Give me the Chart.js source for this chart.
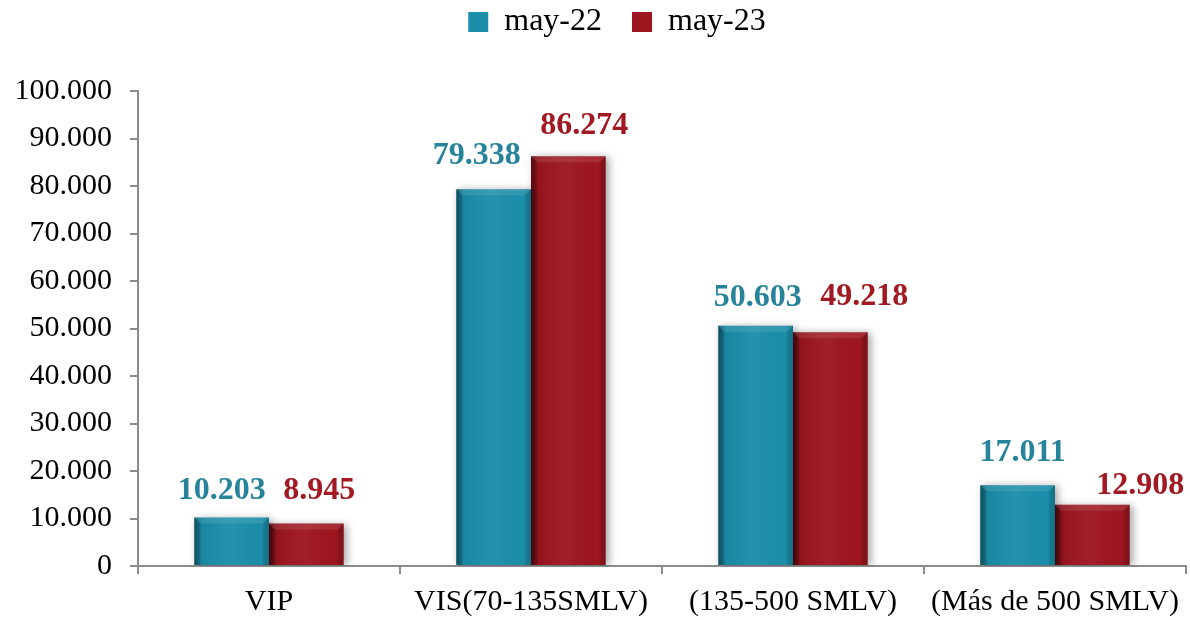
<!DOCTYPE html>
<html>
<head>
<meta charset="utf-8">
<script src="https://cdn.jsdelivr.net/npm/chart.js@4.4.1/dist/chart.umd.min.js"></script>
<style>
  html, body { margin: 0; padding: 0; background: #ffffff; }
  #wrap { width: 1190px; height: 620px; position: relative; }
</style>
</head>
<body>
<div id="wrap"><canvas id="chart"></canvas></div>
<script>
// Categories and series
const categories = ['VIP', 'VIS(70-135SMLV)', '(135-500 SMLV)', '(Más de 500 SMLV)'];
const seriesNames = ['may-22', 'may-23'];
const may22 = [10203, 79338, 50603, 17011];
const may23 = [8945, 86274, 49218, 12908];
const yMin = 0;
const yMax = 100000;
const yStep = 10000;

// Label placement tweaks (pixels): horizontal nudge and rise above bar top
const labelNudgeX = [[-10, -17, 2, 5], [13, 16, 34, 48]];
const labelRise = [[27, 33, 28, 32], [33, 30, 35, 19]];

const FONT = "'Liberation Serif', 'DejaVu Serif', serif";
const BLUE = '#1b8eaa';
const RED = '#9d1620';
const BLUE_TEXT = '#26839a';
const RED_TEXT = '#a11a23';
const AXIS = '#8c8c8c';

function fmt(v) {
  return String(Math.round(v)).replace(/\B(?=(\d{3})+(?!\d))/g, '.');
}

// Extra room below the legend, and a small shift of the legend to the right
const legendSpacer = {
  id: 'legendSpacer',
  beforeInit(chart) {
    const fit = chart.legend.fit;
    chart.legend.fit = function () {
      fit.bind(this)();
      this.height += 43;
    };
  },
  afterLayout(chart) {
    chart.legend.left += 24;
    chart.legend.right += 24;
  }
};

// Soft shadow under bars plus bevel shading drawn over each bar element
const bevelPlugin = {
  id: 'bevel',
  beforeDatasetDraw(chart) {
    const ctx = chart.ctx;
    ctx.save();
    ctx.shadowColor = 'rgba(0,0,0,0.35)';
    ctx.shadowBlur = 8;
    ctx.shadowOffsetX = 3;
    ctx.shadowOffsetY = 1;
  },
  afterDatasetDraw(chart) {
    chart.ctx.restore();
  },
  afterDatasetsDraw(chart) {
    const ctx = chart.ctx;
    chart.data.datasets.forEach((ds, di) => {
      const meta = chart.getDatasetMeta(di);
      meta.data.forEach(el => {
        const { x, y, base, width } = el.getProps(['x', 'y', 'base', 'width'], true);
        const l = x - width / 2, r = x + width / 2;
        const top = Math.min(y, base), bot = Math.max(y, base);
        const h = bot - top;
        ctx.save();
        const g = ctx.createLinearGradient(l, 0, r, 0);
        g.addColorStop(0, 'rgba(0,0,0,0.38)');
        g.addColorStop(0.1, 'rgba(0,0,0,0.05)');
        g.addColorStop(0.5, 'rgba(255,255,255,0.04)');
        g.addColorStop(0.9, 'rgba(0,0,0,0.0)');
        g.addColorStop(1, 'rgba(0,0,0,0.15)');
        ctx.fillStyle = g;
        ctx.fillRect(l, top, width, h);
        const b = Math.min(6, h / 2);
        // top bevel
        ctx.beginPath();
        ctx.moveTo(l, top); ctx.lineTo(r, top); ctx.lineTo(r - b, top + b); ctx.lineTo(l + b, top + b); ctx.closePath();
        ctx.fillStyle = 'rgba(255,255,255,0.10)';
        ctx.fill();
        // left bevel
        ctx.beginPath();
        ctx.moveTo(l, top); ctx.lineTo(l + b, top + b); ctx.lineTo(l + b, bot); ctx.lineTo(l, bot); ctx.closePath();
        ctx.fillStyle = 'rgba(0,0,0,0.12)';
        ctx.fill();
        // right bevel
        ctx.beginPath();
        ctx.moveTo(r, top); ctx.lineTo(r - b, top + b); ctx.lineTo(r - b, bot); ctx.lineTo(r, bot); ctx.closePath();
        ctx.fillStyle = 'rgba(0,0,0,0.08)';
        ctx.fill();
        ctx.restore();
      });
    });
  }
};

// Value labels above each bar
const valueLabels = {
  id: 'valueLabels',
  afterDatasetsDraw(chart) {
    const ctx = chart.ctx;
    ctx.save();
    ctx.font = "bold 32px " + FONT;
    ctx.textAlign = 'center';
    ctx.textBaseline = 'middle';
    chart.data.datasets.forEach((ds, di) => {
      const meta = chart.getDatasetMeta(di);
      ctx.fillStyle = di === 0 ? BLUE_TEXT : RED_TEXT;
      meta.data.forEach((el, i) => {
        const { x, y } = el.getProps(['x', 'y'], true);
        ctx.fillText(fmt(ds.data[i]), x + labelNudgeX[di][i], y - labelRise[di][i]);
      });
    });
    ctx.restore();
  }
};

new Chart(document.getElementById('chart'), {
  type: 'bar',
  data: {
    labels: categories,
    datasets: [
      { label: seriesNames[0], data: may22, backgroundColor: BLUE, borderWidth: 0 },
      { label: seriesNames[1], data: may23, backgroundColor: RED, borderWidth: 0 }
    ]
  },
  options: {
    responsive: true,
    maintainAspectRatio: false,
    animation: false,
    layout: { padding: { left: 0, right: 4, top: -24, bottom: 0 } },
    datasets: {
      bar: { categoryPercentage: 0.57, barPercentage: 1.0 }
    },
    plugins: {
      legend: {
        position: 'top',
        labels: {
          font: { family: FONT, size: 32 },
          color: '#000000',
          boxWidth: 20,
          boxHeight: 20,
          padding: 30
        }
      },
      tooltip: { enabled: false }
    },
    scales: {
      x: {
        afterFit(scale) { scale.height = 54; },
        grid: { display: true, drawOnChartArea: false, offset: true, tickLength: 8, color: AXIS, lineWidth: 2 },
        border: { display: true, color: AXIS, width: 2 },
        ticks: { font: { family: FONT, size: 30 }, color: '#000000', padding: 10, maxRotation: 0, autoSkip: false }
      },
      y: {
        min: yMin,
        max: yMax,
        afterFit(scale) { scale.width = 138; },
        grid: { display: true, drawOnChartArea: false, tickLength: 8, color: AXIS, lineWidth: 2 },
        border: { display: true, color: AXIS, width: 2 },
        ticks: {
          stepSize: yStep,
          font: { family: FONT, size: 30 },
          color: '#000000',
          padding: 18,
          callback: v => fmt(v)
        }
      }
    }
  },
  plugins: [legendSpacer, bevelPlugin, valueLabels]
});
</script>
</body>
</html>
